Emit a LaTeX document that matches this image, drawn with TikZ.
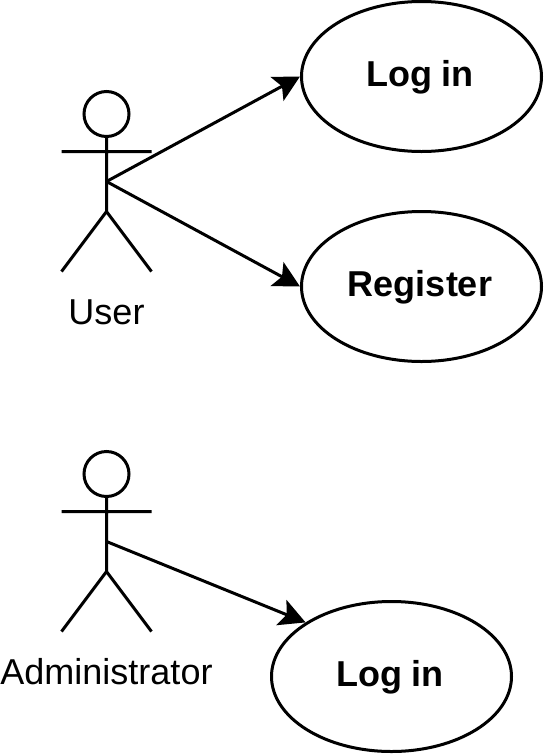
\documentclass[tikz,border=0pt]{standalone}
\usepackage{fontspec}
\setmainfont{Liberation Sans}
\usetikzlibrary{arrows.meta,shapes.geometric}
\tikzset{
  usecase/.style={draw=black,line width=3pt,ellipse,minimum width=240pt,minimum height=150pt,inner sep=0pt},
  casetext/.style={inner sep=0pt,font=\fontsize{36}{40}\selectfont\bfseries},
  headshape/.style={draw=black,circle,line width=3pt,minimum size=45pt,inner sep=0pt},
  limb/.style={draw=black,line width=3pt},
  conn/.style={draw=black,line width=3pt,-{Stealth[length=26pt,width=27pt,inset=5.5pt]}},
  lab/.style={font=\fontsize{36}{40}\selectfont,inner sep=0pt}
}
\begin{document}
\begin{tikzpicture}[x=1pt,y=-1pt]
\useasboundingbox (0,0) rectangle (546,756);
\node[usecase] (login) at (421.5,76.5) {};
\node[usecase] (register) at (421.5,286.5) {};
\node[usecase] (login2) at (391.5,676.5) {};
\node[casetext] (logintext) at (420,77.5) {Log in};
\node[casetext] (registertext) at (420,287.5) {Register};
\node[casetext] (login2text) at (390,677.5) {Log in};
% user
\node[headshape] (uh) at (106.5,114) {};
\coordinate (uc) at (106.5,181.5);
\coordinate (uw) at (106.5,211.5);
\coordinate (ual) at (61.5,151.5);
\coordinate (uar) at (151.5,151.5);
\coordinate (ull) at (61.5,271.5);
\coordinate (ulr) at (151.5,271.5);
\draw[limb] (uh.south) -- (uw) -- (ull) (uw) -- (ulr) (ual) -- (uar);
\node[lab] (ulab) at (106.5,312) {User};
% admin
\node[headshape] (ah) at (106.5,474) {};
\coordinate (ac) at (106.5,541.5);
\coordinate (aw) at (106.5,571.5);
\coordinate (aal) at (61.5,511.5);
\coordinate (aar) at (151.5,511.5);
\coordinate (all) at (61.5,631.5);
\coordinate (alr) at (151.5,631.5);
\draw[limb] (ah.south) -- (aw) -- (all) (aw) -- (alr) (aal) -- (aar);
\node[lab] (alab) at (106.5,672) {Administrator};
\draw[conn] (uc) -- (login.west);
\draw[conn] (uc) -- (register.west);
\draw[conn] (ac) -- (login2.north west);
\end{tikzpicture}
\end{document}
